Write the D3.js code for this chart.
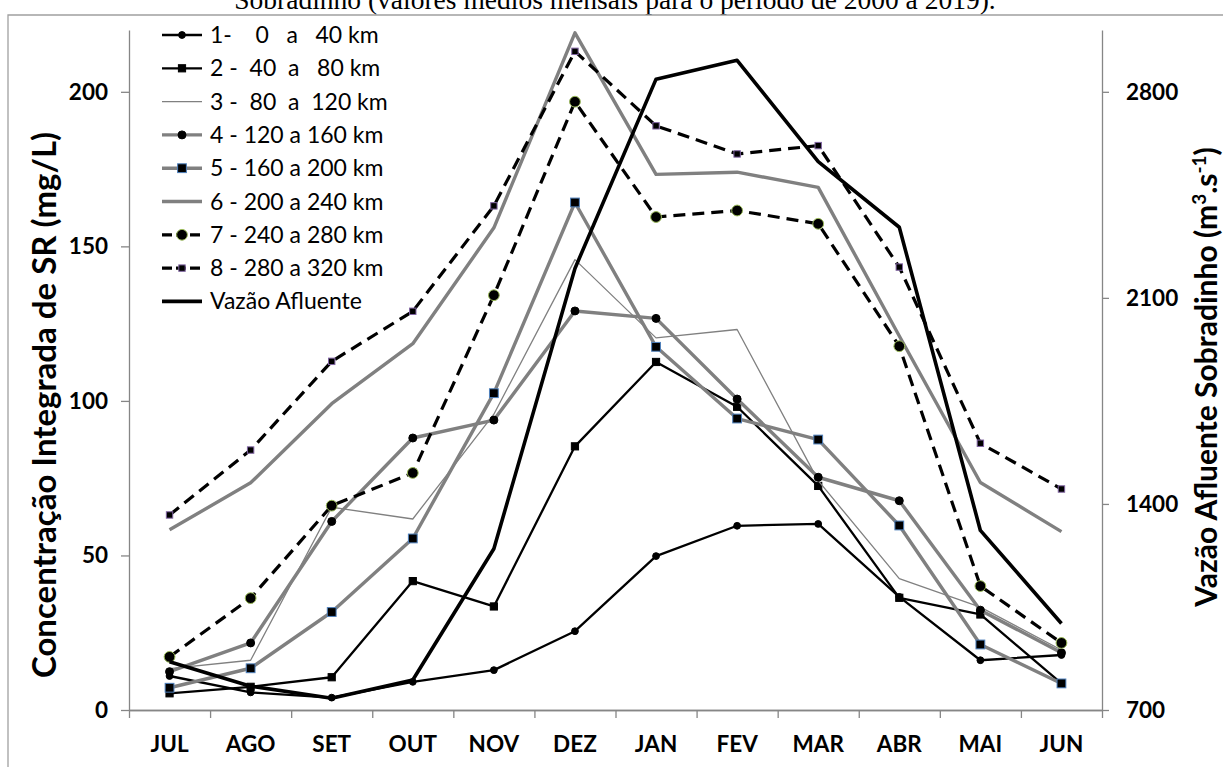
<!DOCTYPE html>
<html>
<head>
<meta charset="utf-8">
<script src="https://cdn.jsdelivr.net/npm/d3@7"></script>
<style>
  body { margin: 0; background: #fff; }
  svg { display: block; }
</style>
</head>
<body>
<div id="chart"></div>
<script>
// months on the x axis
const months = ["JUL", "AGO", "SET", "OUT", "NOV", "DEZ", "JAN", "FEV", "MAR", "ABR", "MAI", "JUN"];

// concentration (mg/L) per reach
const s1 = [11.0, 5.7, 4.0, 9.1, 12.9, 25.5, 49.8, 59.6, 60.2, 36.6, 16.1, 17.8];
const s2 = [5.4, 7.5, 10.6, 41.7, 33.5, 85.3, 112.6, 98.1, 72.5, 36.3, 30.9, 8.6];
const s3 = [13.4, 16.1, 65.6, 61.8, 95.7, 145.7, 120.4, 123.1, 74.2, 42.5, 33.3, 19.4];
const s4 = [12.4, 21.7, 61.0, 88.0, 93.8, 129.1, 126.7, 100.6, 75.3, 67.7, 32.3, 18.5];
const s5 = [7.2, 13.5, 31.7, 55.5, 102.5, 164.2, 117.5, 94.3, 87.5, 59.7, 21.2, 8.6];
const s6 = [58.3, 73.5, 99.1, 118.5, 156.0, 219.1, 173.3, 174.0, 169.1, 121.0, 73.6, 57.7];
const s7 = [17.2, 36.2, 66.1, 76.7, 134.2, 196.8, 159.5, 161.6, 157.3, 117.7, 40.1, 21.7];
const s8 = [63.1, 84.1, 112.8, 129.0, 163.1, 213.1, 189.0, 179.9, 182.6, 143.3, 86.3, 71.5];

// inflow Sobradinho (m3/s), right axis
const vazao = [864, 781, 740, 802, 1248, 2200, 2843, 2907, 2563, 2340, 1310, 994];

const legendLabels = [
  "1-    0   a   40 km",
  "2 -  40  a   80 km",
  "3 -  80  a  120 km",
  "4 - 120 a 160 km",
  "5 - 160 a 200 km",
  "6 - 200 a 240 km",
  "7 - 240 a 280 km",
  "8 - 280 a 320 km",
  "Vazão Afluente"
];

const leftTicks = [0, 50, 100, 150, 200];
const rightTicks = [700, 1400, 2100, 2800];

const GRAY = "#808080";

// line / marker style of each series (same order as legend)
const styles = [
  { data: s1, color: "#000", width: 2.3, dash: null, marker: "circle", r: 3.4, fill: "#000", mstroke: "#000" },
  { data: s2, color: "#000", width: 2.3, dash: null, marker: "square", r: 3.6, fill: "#000", mstroke: "#000" },
  { data: s3, color: GRAY, width: 1.3, dash: null, marker: null },
  { data: s4, color: GRAY, width: 3.4, dash: null, marker: "circle", r: 4, fill: "#000", mstroke: "#000" },
  { data: s5, color: GRAY, width: 3.4, dash: null, marker: "square", r: 4.4, fill: "#000", mstroke: "#4f81bd" },
  { data: s6, color: GRAY, width: 3.4, dash: null, marker: null },
  { data: s7, color: "#000", width: 3.2, dash: "12,7", marker: "circle", r: 5.4, fill: "#000", mstroke: "#9bbb59" },
  { data: s8, color: "#000", width: 3.2, dash: "12,7", marker: "square", r: 3.2, fill: "#000", mstroke: "#8064a2" },
  { data: vazao, color: "#000", width: 3.6, dash: null, marker: null, right: true }
];

const W = 1223, H = 767;
const plot = { left: 129, right: 1102, top: 30, bottom: 710 };

const svg = d3.select("#chart").append("svg")
  .attr("width", W)
  .attr("height", H)
  .style("font-family", "Lato, sans-serif");

// caption of the figure, cut by the top edge as in the source
svg.append("text")
  .attr("x", 615)
  .attr("y", 9)
  .attr("text-anchor", "middle")
  .style("font-family", "'Liberation Serif', serif")
  .style("font-size", "27.5px")
  .text("Sobradinho (valores médios mensais para o período de 2000 a 2019).");

// frame
svg.append("path")
  .attr("d", `M8,${H} V15 H${W}`)
  .attr("fill", "none")
  .attr("stroke", "#a0a0a0")
  .attr("stroke-width", 1.3);

const x = d3.scaleBand().domain(months).range([plot.left, plot.right]);
const y = d3.scaleLinear().domain([0, 220]).range([plot.bottom, plot.top]);
const y2 = d3.scaleLinear().domain([700, 3010]).range([plot.bottom, plot.top]);

const axisColor = "#868686";

// left axis
const gl = svg.append("g")
  .attr("transform", `translate(${plot.left},0)`)
  .call(d3.axisLeft(y).tickValues(leftTicks).tickSize(8).tickSizeOuter(0).tickPadding(13));

// right axis
const gr = svg.append("g")
  .attr("transform", `translate(${plot.right},0)`)
  .call(d3.axisRight(y2).tickValues(rightTicks).tickFormat(d3.format("d"))
    .tickSize(7).tickSizeOuter(0).tickPadding(17));

// bottom axis: category labels + boundary ticks
const gb = svg.append("g")
  .attr("transform", `translate(0,${plot.bottom})`)
  .call(d3.axisBottom(x).tickSize(0).tickPadding(26));

const bounds = d3.scaleLinear().domain([0, months.length]).range([plot.left, plot.right]);
const gbt = svg.append("g")
  .attr("transform", `translate(0,${plot.bottom})`)
  .call(d3.axisBottom(bounds).ticks(months.length).tickSize(8).tickSizeOuter(0).tickFormat(""));

[gl, gr, gb, gbt].forEach(g => {
  g.select(".domain").attr("stroke", axisColor).attr("stroke-width", 1.3);
  g.selectAll(".tick line").attr("stroke", axisColor).attr("stroke-width", 1.3);
  g.selectAll("text")
    .attr("fill", "#000")
    .style("font-family", "Lato, sans-serif")
    .style("font-size", "22.5px")
    .style("font-weight", "bold");
});

// axis titles
svg.append("text")
  .attr("transform", `translate(56,${405}) rotate(-90)`)
  .attr("text-anchor", "middle")
  .style("font-size", "33px")
  .style("font-weight", "bold")
  .text("Concentração Integrada de SR (mg/L)");

const rt = svg.append("text")
  .attr("transform", `translate(1217,${377}) rotate(-90)`)
  .attr("text-anchor", "middle")
  .style("font-size", "30px")
  .style("font-weight", "bold");
rt.append("tspan").text("Vazão Afluente Sobradinho (m");
rt.append("tspan").attr("dy", -11).style("font-size", "19px").text("3");
rt.append("tspan").attr("dy", 11).text(".s");
rt.append("tspan").attr("dy", -11).style("font-size", "19px").text("-1");
rt.append("tspan").attr("dy", 11).text(")");

function drawMarker(g, st, cx, cy) {
  if (st.marker === "circle") {
    g.append("circle")
      .attr("cx", cx).attr("cy", cy).attr("r", st.r)
      .attr("fill", st.fill).attr("stroke", st.mstroke).attr("stroke-width", 1);
  } else if (st.marker === "square") {
    g.append("rect")
      .attr("x", cx - st.r).attr("y", cy - st.r)
      .attr("width", st.r * 2).attr("height", st.r * 2)
      .attr("fill", st.fill).attr("stroke", st.mstroke).attr("stroke-width", 1);
  }
}

// series
styles.forEach(st => {
  const ys = st.right ? y2 : y;
  const line = d3.line()
    .x((d, i) => x(months[i]) + x.bandwidth() / 2)
    .y(d => ys(d));
  const g = svg.append("g");
  g.append("path")
    .attr("d", line(st.data))
    .attr("fill", "none")
    .attr("stroke", st.color)
    .attr("stroke-width", st.width)
    .attr("stroke-linejoin", "round")
    .attr("stroke-dasharray", st.dash);
  if (st.marker) {
    st.data.forEach((d, i) => drawMarker(g, st, x(months[i]) + x.bandwidth() / 2, ys(d)));
  }
});

// legend
const legend = svg.append("g");
legendLabels.forEach((lab, i) => {
  const st = styles[i];
  const ly = 35 + i * 33.3;
  const row = legend.append("g");
  row.append("line")
    .attr("x1", 162).attr("x2", 202)
    .attr("y1", ly).attr("y2", ly)
    .attr("stroke", st.color)
    .attr("stroke-width", st.width)
    .attr("stroke-dasharray", st.dash ? "10,4" : null);
  if (st.marker) drawMarker(row, st, 182, ly);
  row.append("text")
    .attr("x", 210).attr("y", ly)
    .attr("dy", "0.35em")
    .style("font-size", "23px")
    .style("white-space", "pre")
    .text(lab);
});
</script>
</body>
</html>
